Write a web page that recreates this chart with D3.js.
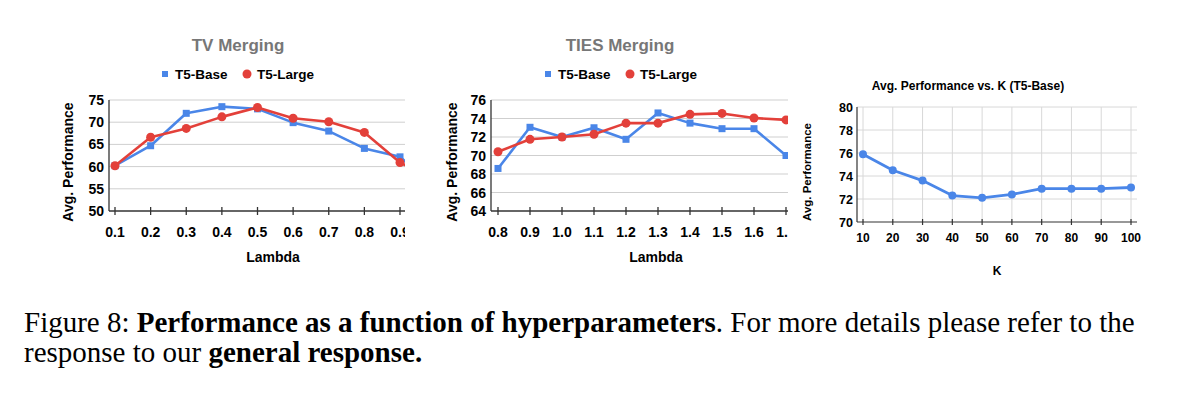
<!DOCTYPE html>
<html>
<head>
<meta charset="utf-8">
<script src="https://cdn.jsdelivr.net/npm/d3@7"></script>
<style>
  body { margin: 0; background: #fff; }
  svg { display: block; }
  text { font-family: "Liberation Sans", Arial, sans-serif; }
</style>
</head>
<body>
<svg id="fig" width="1181" height="394"></svg>
<script>
// --- data ---
const tvLambda = [0.1, 0.2, 0.3, 0.4, 0.5, 0.6, 0.7, 0.8, 0.9, 1.0];
const tvBase  = [60.2, 64.7, 72.0, 73.5, 73.0, 69.9, 68.0, 64.1, 62.2, 55.0];
const tvLarge = [60.2, 66.6, 68.6, 71.2, 73.3, 70.9, 70.1, 67.7, 60.9, 57.0];
const tvTicksY = [50, 55, 60, 65, 70, 75];

const tiesLambda = [0.8, 0.9, 1.0, 1.1, 1.2, 1.3, 1.4, 1.5, 1.6, 1.7];
const tiesBase  = [68.6, 73.05, 72.0, 73.0, 71.75, 74.6, 73.5, 72.9, 72.9, 70.0];
const tiesLarge = [70.4, 71.75, 72.0, 72.3, 73.5, 73.5, 74.45, 74.55, 74.05, 73.85];
const tiesTicksY = [64, 66, 68, 70, 72, 74, 76];

const kVals = [10, 20, 30, 40, 50, 60, 70, 80, 90, 100];
const kPerf = [75.9, 74.5, 73.6, 72.3, 72.1, 72.4, 72.9, 72.9, 72.9, 73.0];
const kTicksY = [70, 72, 74, 76, 78, 80];

const blue = '#4a86e8', red = '#e3403a';
const svg = d3.select('#fig');

// two-series lambda chart (TV / TIES)
function lambdaChart(o) {
  const clipId = 'clip' + o.id;
  svg.append('clipPath').attr('id', clipId)
    .append('rect').attr('x', 0).attr('y', 0).attr('width', o.clipX).attr('height', 394);
  const g = svg.append('g').attr('clip-path', `url(#${clipId})`);

  const x = d3.scaleLinear().domain([o.xs[0], o.xs[8]]).range(o.xRange);
  const y = d3.scaleLinear().domain(d3.extent(o.ticksY)).range([211, 100]);

  g.append('text').attr('x', o.titleX).attr('y', 51).attr('text-anchor', 'middle')
    .attr('font-size', 17).attr('font-weight', 'bold').attr('fill', '#777').text(o.title);

  // legend
  const lg = g.append('g').attr('font-size', 13.5).attr('font-weight', 'bold');
  lg.append('rect').attr('x', o.legX - 3).attr('y', 71).attr('width', 6).attr('height', 6).attr('fill', blue);
  lg.append('text').attr('x', o.legX + 10).attr('y', 79).text('T5-Base');
  lg.append('circle').attr('cx', o.legX + 82).attr('cy', 74).attr('r', 4.5).attr('fill', red);
  lg.append('text').attr('x', o.legX + 92).attr('y', 79).text('T5-Large');

  // grid
  g.selectAll('.grid').data(o.ticksY.slice(1)).join('line')
    .attr('x1', o.axisX).attr('x2', o.clipX).attr('y1', d => y(d)).attr('y2', d => y(d))
    .attr('stroke', '#cfcfcf').attr('stroke-width', 1);

  g.selectAll('.yl').data(o.ticksY).join('text')
    .attr('x', o.axisX - 5).attr('y', d => y(d) + 5).attr('text-anchor', 'end')
    .attr('font-size', 14).attr('font-weight', 'bold').text(d => d);

  // axes lines
  g.append('line').attr('x1', o.axisX).attr('x2', o.axisX).attr('y1', 100).attr('y2', 211)
    .attr('stroke', '#333').attr('stroke-width', 1.3);
  g.append('line').attr('x1', o.axisX).attr('x2', o.clipX).attr('y1', 211).attr('y2', 211)
    .attr('stroke', '#333').attr('stroke-width', 1.3);
  g.selectAll('.xt').data(o.xs).join('line')
    .attr('x1', d => x(d)).attr('x2', d => x(d)).attr('y1', 207).attr('y2', 215)
    .attr('stroke', '#333').attr('stroke-width', 1.3);
  g.selectAll('.xl').data(o.xs).join('text')
    .attr('x', d => x(d)).attr('y', 237).attr('text-anchor', 'middle')
    .attr('font-size', 14).attr('font-weight', 'bold').text(d => d.toFixed(1));

  g.append('text').attr('x', o.lamX).attr('y', 262).attr('text-anchor', 'middle')
    .attr('font-size', 14).attr('font-weight', 'bold').text('Lambda');
  g.append('text').attr('transform', `translate(${o.yTitleX},162) rotate(-90)`)
    .attr('text-anchor', 'middle').attr('font-size', 14).attr('font-weight', 'bold')
    .text('Avg. Performance');

  const line = d3.line().x((d, i) => x(o.xs[i])).y(d => y(d));
  g.append('path').datum(o.base).attr('d', line).attr('fill', 'none')
    .attr('stroke', blue).attr('stroke-width', 2.6).attr('stroke-linejoin', 'round');
  g.selectAll('.bm').data(o.base).join('rect')
    .attr('x', (d, i) => x(o.xs[i]) - 3.5).attr('y', d => y(d) - 3.5)
    .attr('width', 7).attr('height', 7).attr('fill', blue);
  g.append('path').datum(o.large).attr('d', line).attr('fill', 'none')
    .attr('stroke', red).attr('stroke-width', 2.6).attr('stroke-linejoin', 'round');
  g.selectAll('.lm').data(o.large).join('circle')
    .attr('cx', (d, i) => x(o.xs[i])).attr('cy', d => y(d)).attr('r', 4.5).attr('fill', red);
}

lambdaChart({ id: 1, title: 'TV Merging', titleX: 238, legX: 165, xs: tvLambda,
  base: tvBase, large: tvLarge, ticksY: tvTicksY, xRange: [115, 400], axisX: 109,
  clipX: 405, lamX: 273, yTitleX: 73 });
lambdaChart({ id: 2, title: 'TIES Merging', titleX: 620, legX: 548, xs: tiesLambda,
  base: tiesBase, large: tiesLarge, ticksY: tiesTicksY, xRange: [498, 754], axisX: 491,
  clipX: 788, lamX: 656, yTitleX: 457 });

// K chart
{
  const g = svg.append('g');
  const x = d3.scaleLinear().domain([10, 100]).range([863, 1131]);
  const y = d3.scaleLinear().domain([70, 80]).range([222, 107]);

  g.append('text').attr('x', 968).attr('y', 90).attr('text-anchor', 'middle')
    .attr('font-size', 12).attr('font-weight', 'bold').text('Avg. Performance vs. K (T5-Base)');

  g.selectAll('.hg').data(kTicksY.slice(1)).join('line')
    .attr('x1', 857).attr('x2', 1137).attr('y1', d => y(d)).attr('y2', d => y(d))
    .attr('stroke', '#d8d8d8');
  g.selectAll('.vg').data(kVals).join('line')
    .attr('x1', d => x(d)).attr('x2', d => x(d)).attr('y1', 107).attr('y2', 222)
    .attr('stroke', '#d8d8d8');
  g.selectAll('.yl').data(kTicksY).join('text')
    .attr('x', 853).attr('y', d => y(d) + 4.5).attr('text-anchor', 'end')
    .attr('font-size', 12.5).attr('font-weight', 'bold').text(d => d);

  g.append('line').attr('x1', 857).attr('x2', 857).attr('y1', 107).attr('y2', 222)
    .attr('stroke', '#333').attr('stroke-width', 1.2);
  g.append('line').attr('x1', 857).attr('x2', 1137).attr('y1', 222).attr('y2', 222)
    .attr('stroke', '#333').attr('stroke-width', 1.2);
  g.selectAll('.xt').data(kVals).join('line')
    .attr('x1', d => x(d)).attr('x2', d => x(d)).attr('y1', 219).attr('y2', 225)
    .attr('stroke', '#333').attr('stroke-width', 1.2);
  g.selectAll('.xl').data(kVals).join('text')
    .attr('x', d => x(d)).attr('y', 242).attr('text-anchor', 'middle')
    .attr('font-size', 12).attr('font-weight', 'bold').text(d => d);

  g.append('text').attr('x', 997).attr('y', 275).attr('text-anchor', 'middle')
    .attr('font-size', 12).attr('font-weight', 'bold').text('K');
  g.append('text').attr('transform', 'translate(811,172) rotate(-90)')
    .attr('text-anchor', 'middle').attr('font-size', 11.5).attr('font-weight', 'bold')
    .text('Avg. Performance');

  const line = d3.line().x((d, i) => x(kVals[i])).y(d => y(d));
  g.append('path').datum(kPerf).attr('d', line).attr('fill', 'none')
    .attr('stroke', blue).attr('stroke-width', 2.8).attr('stroke-linejoin', 'round');
  g.selectAll('.km').data(kPerf).join('circle')
    .attr('cx', (d, i) => x(kVals[i])).attr('cy', d => y(d)).attr('r', 4).attr('fill', blue);
}

// caption
const cap = svg.append('g').attr('font-size', 29).style('font-family', '"Liberation Serif", "Times New Roman", serif');
const l1 = cap.append('text').attr('x', 24).attr('y', 332).style('font-family', 'inherit');
l1.append('tspan').text('Figure 8: ');
l1.append('tspan').attr('font-weight', 'bold').text('Performance as a function of hyperparameters');
l1.append('tspan').text('. For more details please refer to the');
const l2 = cap.append('text').attr('x', 24).attr('y', 362).style('font-family', 'inherit');
l2.append('tspan').text('response to our ');
l2.append('tspan').attr('font-weight', 'bold').text('general response.');
</script>
</body>
</html>
